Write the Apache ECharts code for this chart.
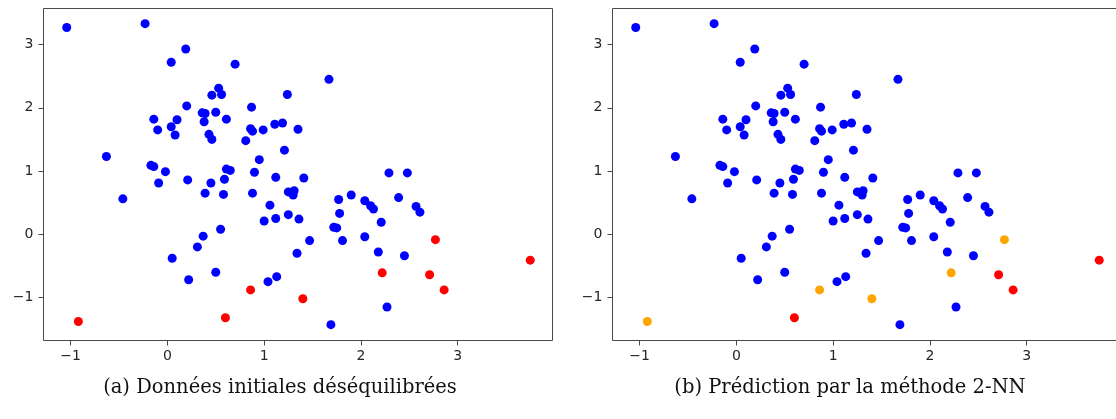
<!DOCTYPE html>
<html><head><meta charset="utf-8">
<script src="https://cdn.jsdelivr.net/npm/echarts@6/dist/echarts.min.js"></script>
<style>html,body{margin:0;padding:0;background:#fff;overflow:hidden;width:1116px;height:419px}#c{width:1140px;height:419px}</style>
</head><body><div id="c"></div>
<script>
// Majority class (blue) points
const majorityX = [-1.04,-0.23,0.19,0.04,0.70,0.53,0.46,0.56,0.20,0.87,0.36,0.39,0.50,-0.14,0.10,0.61,0.38,-0.10,0.04,0.08,0.43,0.46,0.86,0.88,0.99,1.11,0.81,0.95,-0.63,-0.17,-0.14,-0.02,-0.09,0.21,0.61,0.65,0.45,0.59,0.90,0.39,0.58,0.88,1.12,-0.46,1.06,1.67,1.24,1.19,1.35,1.21,1.41,1.25,1.31,1.30,2.29,2.48,1.77,1.90,2.04,2.10,2.13,2.39,2.57,2.61,1.12,1.25,1.36,1.78,2.21,1.72,1.75,1.47,1.81,2.04,1.34,2.18,2.45,1.13,1.04,1.69,2.27,1.00,0.55,0.37,0.31,0.05,0.22,0.50];
const majorityY = [3.27,3.33,2.93,2.72,2.69,2.31,2.20,2.21,2.03,2.01,1.92,1.91,1.93,1.82,1.81,1.82,1.78,1.65,1.70,1.57,1.58,1.50,1.67,1.63,1.65,1.74,1.48,1.18,1.23,1.09,1.07,0.99,0.81,0.86,1.03,1.01,0.81,0.87,0.98,0.65,0.63,0.65,0.90,0.56,0.46,2.45,2.21,1.76,1.66,1.33,0.89,0.67,0.69,0.62,0.97,0.97,0.55,0.62,0.53,0.45,0.40,0.58,0.44,0.35,0.25,0.31,0.24,0.33,0.19,0.11,0.10,-0.10,-0.10,-0.04,-0.30,-0.28,-0.34,-0.67,-0.75,-1.43,-1.15,0.21,0.08,-0.03,-0.20,-0.38,-0.72,-0.60];
// Minority class (red) points
const minorityX = [-0.92,0.86,0.60,1.40,2.22,2.77,2.71,2.86,3.75];
const minorityY = [-1.38,-0.88,-1.32,-1.02,-0.61,-0.085,-0.64,-0.88,-0.41];
// 2-NN prediction for minority points: true = predicted minority (red), false = misclassified (orange)
const minorityPredictedCorrectly = [false,false,true,false,false,false,true,true,true];
const xTicks = [-1,0,1,2,3];
const yTicks = [-1,0,1,2,3];
const captions = ['(a) Données initiales déséquilibrées','(b) Prédiction par la méthode 2-NN'];

const BLUE='#0000ff', RED='#ff0000', ORANGE='#ffa500';
const pts = (xs,ys,filter)=>xs.map((x,i)=>[x,ys[i]]).filter((p,i)=>!filter||filter(i));
const fmt = v => v<0 ? '\u2212'+Math.abs(v) : String(v);
const frame = '#4a4a4a';
function xAxis(gi){return {type:'value',gridIndex:gi,min:-1.28,max:3.98,position:'bottom',
  axisLine:{show:false,onZero:false},splitLine:{show:false},
  axisTick:{show:true,inside:false,length:5,lineStyle:{color:frame},customValues:xTicks},
  axisLabel:{customValues:xTicks,formatter:fmt,color:'#262626',fontSize:14,fontFamily:'DejaVu Sans',margin:9}};}
function yAxis(gi){return {type:'value',gridIndex:gi,min:-1.68,max:3.57,position:'left',
  axisLine:{show:false,onZero:false},splitLine:{show:false},
  axisTick:{show:true,inside:false,length:5,lineStyle:{color:frame},customValues:yTicks},
  axisLabel:{customValues:yTicks,formatter:fmt,color:'#262626',fontSize:14,fontFamily:'DejaVu Sans',margin:10}};}
const sym = 9;
const chart = echarts.init(document.getElementById('c'),null,{renderer:'canvas'});
chart.setOption({
  animation:false,
  grid:[
    {left:43.5,top:8.5,width:509,height:332,show:true,borderColor:frame,borderWidth:1,backgroundColor:'transparent'},
    {left:612.5,top:8.5,width:509,height:332,show:true,borderColor:frame,borderWidth:1,backgroundColor:'transparent'}
  ],
  xAxis:[xAxis(0),xAxis(1)],
  yAxis:[yAxis(0),yAxis(1)],
  series:[
    {type:'scatter',xAxisIndex:0,yAxisIndex:0,symbolSize:sym,itemStyle:{color:BLUE,opacity:1},data:pts(majorityX,majorityY)},
    {type:'scatter',xAxisIndex:0,yAxisIndex:0,symbolSize:sym,itemStyle:{color:RED,opacity:1},data:pts(minorityX,minorityY)},
    {type:'scatter',xAxisIndex:1,yAxisIndex:1,symbolSize:sym,itemStyle:{color:BLUE,opacity:1},data:pts(majorityX,majorityY)},
    {type:'scatter',xAxisIndex:1,yAxisIndex:1,symbolSize:sym,itemStyle:{color:ORANGE,opacity:1},data:pts(minorityX,minorityY,i=>!minorityPredictedCorrectly[i])},
    {type:'scatter',xAxisIndex:1,yAxisIndex:1,symbolSize:sym,itemStyle:{color:RED,opacity:1},data:pts(minorityX,minorityY,i=>minorityPredictedCorrectly[i])}
  ],
  graphic:[
    {type:'text',x:280,y:388,style:{text:captions[0],fill:'#111',font:'19.5px "DejaVu Serif"',align:'center',verticalAlign:'middle'}},
    {type:'text',x:850,y:388,style:{text:captions[1],fill:'#111',font:'19.5px "DejaVu Serif"',align:'center',verticalAlign:'middle'}}
  ]
});
</script></body></html>
